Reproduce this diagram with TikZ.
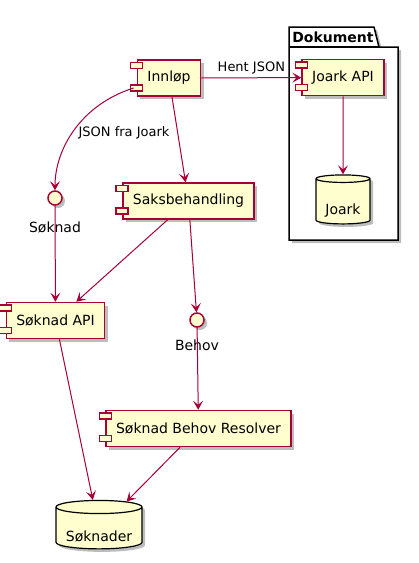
\documentclass[tikz,border=0pt]{standalone}
\usepackage{fontspec}
\setmainfont{DejaVu Sans}
\usepackage{tikz}
\usetikzlibrary{arrows.meta,calc,positioning,shapes.geometric,shadows}
\definecolor{umlred}{HTML}{A80036}
\definecolor{umlfill}{HTML}{FEFECE}
\definecolor{shadowgray}{HTML}{BDBDBD}
\tikzset{
  umlshadow/.style={drop shadow={shadow xshift=3pt,shadow yshift=-3pt,fill=shadowgray,opacity=1}},
  component/.style={draw=umlred,fill=umlfill,line width=1.5pt,minimum height=36pt,inner xsep=10pt,font=\fontsize{14}{16}\selectfont,umlshadow},
  stub/.style={draw=umlred,fill=umlfill,line width=1.5pt},
  iface/.style={circle,draw=umlred,fill=umlfill,line width=1.5pt,minimum size=14pt,inner sep=0pt,umlshadow},
  ifacelabel/.style={font=\fontsize{14}{16}\selectfont},
  database/.style={cylinder,shape border rotate=90,aspect=0.18,draw=black,fill=umlfill,line width=1.2pt,text height=24pt,text depth=0pt,font=\fontsize{14}{16}\selectfont,umlshadow},
  flow/.style={umlred,line width=1pt,-{Stealth[length=9pt,width=10pt,inset=4pt]}},
  flowlabel/.style={text=black,font=\fontsize{13}{15}\selectfont},
  package/.style={draw=black,fill=white,line width=1.5pt}
}

\begin{document}
\begin{tikzpicture}[x=1pt,y=-1pt]
\useasboundingbox (0,0) rectangle (419,563);
\draw[package,umlshadow] (289,240) -- (289,27) -- (374,27) -- (379,47) -- (398,47) -- (398,240) -- cycle;
\draw[package] (289,47) -- (379,47);
\node[font=\bfseries\fontsize{14}{16}\selectfont] (dokument) at (333,37) {Dokument};

\node[component] (innlop) at (169,78) {Innløp};
\node[component] (joarkapi) at (343,77.5) {Joark API};
\node[database,minimum width=54pt,minimum height=49pt] (joark) at (343,202.5) {Joark};
\node[iface] (soknad) at (55,198) {};
\node[ifacelabel] (soknadlabel) at (55,227) {Søknad};
\node[component] (saks) at (188.5,201) {Saksbehandling};
\node[component] (soknadapi) at (55.5,320.5) {Søknad API};
\node[iface] (behov) at (197,320) {};
\node[ifacelabel] (behovlabel) at (197,345) {Behov};
\node[component] (resolver) at (198.5,428.5) {Søknad Behov Resolver};
\node[database,minimum width=86pt,minimum height=45pt] (soknader) at (99,529.5) {Søknader};
\foreach \n in {innlop,joarkapi,saks,soknadapi,resolver} {
  \draw[stub] ($(\n.north west)+(-6pt,-3pt)$) rectangle ++(12pt,-6pt);
  \draw[stub] ($(\n.south west)+(-6pt,6pt)$) rectangle ++(12pt,6pt);
}

\draw[flow] (innlop) -- node[flowlabel,above] (hentjson) {Hent JSON} (joarkapi);
\draw[flow] (joarkapi) -- (joark);
\draw[flow] ([xshift=-3pt,yshift=-10pt]innlop.west) .. controls (80,105) and (55,150) .. (soknad.north);
\node[flowlabel] (jsonfrajoark) at (124,133) {JSON fra Joark};
\draw[flow] (innlop) -- (saks);
\draw[flow] (soknad) -- (soknadapi);
\draw[flow] (saks) -- (soknadapi);
\draw[flow] (saks) -- (behov);
\draw[flow] (behov) -- (resolver);
\draw[flow] (soknadapi) -- (soknader);
\draw[flow] (resolver) -- (soknader);
\end{tikzpicture}
\end{document}
